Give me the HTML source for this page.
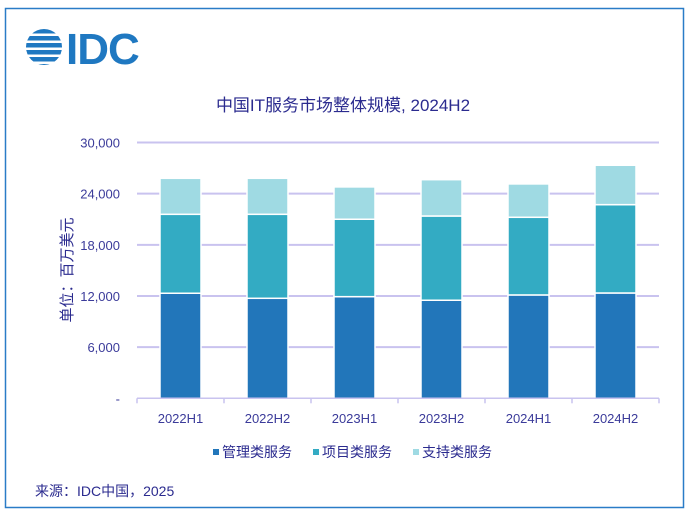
<!DOCTYPE html>
<html><head><meta charset="utf-8"><style>
html,body{margin:0;padding:0;background:#fff;}
body{width:687px;height:518px;overflow:hidden;font-family:"Liberation Sans","Noto Sans CJK SC",sans-serif;}
</style></head><body>
<svg id="chart" width="687" height="518" xmlns="http://www.w3.org/2000/svg" font-family="'Liberation Sans','Noto Sans CJK SC',sans-serif">
<defs><clipPath id="globe"><circle cx="44" cy="47" r="18"/></clipPath></defs>
<rect x="5.5" y="8.5" width="678" height="499" fill="#fff" stroke="#2a7cc7" stroke-width="1.5"/>
<g>
<g fill="#1f78c1" clip-path="url(#globe)">
<rect x="20" y="29" width="50" height="4.5"/><rect x="20" y="36" width="50" height="4.5"/>
<rect x="20" y="43" width="50" height="4.5"/><rect x="20" y="50" width="50" height="4.5"/>
<rect x="20" y="57" width="50" height="4.5"/><rect x="20" y="64" width="50" height="4.5"/>
</g>
<text x="66" y="64" font-size="44" font-weight="bold" fill="#1f78c1" letter-spacing="-1">IDC</text>
</g>
<text x="343" y="111" text-anchor="middle" font-size="17" fill="#2b2b8f">中国IT服务市场整体规模, 2024H2</text>
<text transform="translate(72,270) rotate(-90)" text-anchor="middle" font-size="15" fill="#2b2b8f">单位：百万美元</text>
<g id="grid"></g><g id="bars"></g><g id="axis"></g>
<g font-size="14" fill="#2b2b8f">
<rect x="213" y="449" width="6" height="6" fill="#2276ba"/><text x="222" y="457">管理类服务</text>
<rect x="313" y="449" width="6" height="6" fill="#33abc3"/><text x="322" y="457">项目类服务</text>
<rect x="413" y="449" width="6" height="6" fill="#9fdae3"/><text x="422" y="457">支持类服务</text>
</g>
<text x="35" y="496" font-size="14" fill="#2b2b8f">来源：IDC中国，2025</text>
</svg>
<script>
const categories=["2022H1","2022H2","2023H1","2023H2","2024H1","2024H2"];
const managed=[12320,11730,11920,11500,12120,12350];
const project=[9260,9850,9080,9880,9110,10360];
const support=[4220,4220,3790,4260,3910,4620];
const yTicks=[0,6000,12000,18000,24000,30000];
const yTickLabels=["-","6,000","12,000","18,000","24,000","30,000"];
const seriesList=[{n:"managed",v:managed,c:"#2276ba"},{n:"project",v:project,c:"#33abc3"},{n:"support",v:support,c:"#9fdae3"}];
const NS="http://www.w3.org/2000/svg";
const L=137,R=659,T=142.5,B=398.3,max=30000;
const y=v=>B-(v/max)*(B-T);
const step=(R-L)/categories.length;
const x=i=>L+step*i+step/2;
const bw=41;
function mk(tag,attrs,parent){const e=document.createElementNS(NS,tag);for(const k in attrs)e.setAttribute(k,attrs[k]);parent.appendChild(e);return e;}
const grid=document.getElementById('grid'),bars=document.getElementById('bars'),axis=document.getElementById('axis');
yTicks.forEach((t,i)=>{
 if(t>0){const l=mk('line',{x1:L,x2:R,y1:y(t),y2:y(t),stroke:'#c9c3ef','stroke-width':2},grid);
 
 }
 const tx=mk('text',{x:120,y:y(t)+5,'text-anchor':'end','font-size':13,fill:'#3b3b9a'},axis);
 tx.textContent=yTickLabels[i];
 
 
});
categories.forEach((c,i)=>{
 let acc=0;
 seriesList.forEach(s=>{
  const v=s.v[i];
  const r=mk('rect',{x:x(i)-bw/2,y:y(acc+v),width:bw,height:y(acc)-y(acc+v),fill:s.c,stroke:'#fff','stroke-width':1.5},bars);
  
  
  acc+=v;
 });
 const tx=mk('text',{x:x(i),y:423,'text-anchor':'middle','font-size':13,fill:'#3b3b9a'},axis);
 tx.textContent=c;
 
 
});
const ax=mk('line',{x1:L,x2:R,y1:B,y2:B,stroke:'#c9c3ef','stroke-width':1.5},axis);


for(let i=0;i<=categories.length;i++){
 const tk=mk('line',{x1:L+step*i,x2:L+step*i,y1:B,y2:B+5,stroke:'#c9c3ef','stroke-width':1.5},axis);
 
 
}
</script>
</body></html>
